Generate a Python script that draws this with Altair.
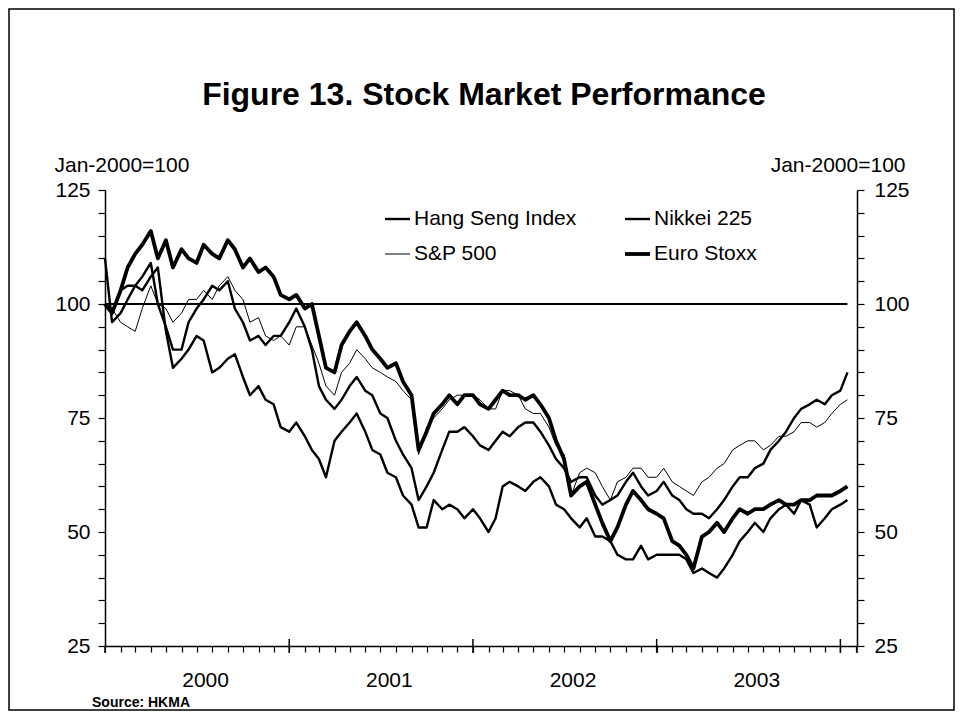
import altair as alt
import pandas as pd

# ---------------- data ----------------
# half-monthly observations, 1 Jan 2000 .. 15 Jan 2004 (98 points)
dates = pd.date_range("2000-01-01", periods=98, freq="SMS")

hang_seng = [
    110, 96, 98, 101, 104, 106, 109, 100, 95, 90, 90, 96,
    99, 101, 104, 103, 105, 99, 96, 92, 93, 91, 93, 93,
    96, 99, 95, 90, 82, 79, 77, 79, 82, 84, 81, 80,
    76, 75, 70, 67, 64, 57, 60, 63, 68, 72, 72, 73,
    71, 69, 68, 70, 72, 71, 73, 74, 74, 72, 69, 66,
    64, 61, 62, 62, 58, 56, 57, 58, 61, 63, 60, 58,
    59, 61, 58, 57, 55, 54, 54, 53, 55, 57, 60, 62,
    62, 64, 65, 68, 70, 72, 75, 77, 78, 79, 78, 80,
    81, 85,
]
nikkei = [
    100, 98, 103, 104, 104, 103, 106, 108, 94, 86, 88, 90,
    93, 92, 85, 86, 88, 89, 84, 80, 82, 79, 78, 73,
    72, 74, 71, 68, 66, 62, 70, 72, 74, 76, 72, 68,
    67, 63, 62, 58, 56, 51, 51, 57, 55, 56, 55, 53,
    55, 53, 50, 53, 60, 61, 60, 59, 61, 62, 60, 56,
    55, 53, 51, 53, 49, 49, 48, 45, 44, 44, 47, 44,
    45, 45, 45, 45, 44, 41, 42, 41, 40, 42, 45, 48,
    50, 52, 50, 53, 55, 56, 54, 57, 56, 51, 53, 55,
    56, 57,
]
sp500 = [
    100, 99, 96, 95, 94, 99, 104, 100, 99, 96, 98, 101,
    101, 103, 101, 104, 106, 103, 101, 96, 97, 93, 92, 93,
    91, 95, 95, 91, 87, 82, 80, 85, 87, 90, 88, 86,
    85, 84, 83, 81, 79, 67, 73, 75, 77, 79, 80, 80,
    80, 79, 77, 77, 81, 81, 80, 77, 76, 76, 73, 69,
    67, 58, 63, 64, 63, 60, 57, 61, 62, 64, 64, 62,
    62, 64, 61, 60, 59, 58, 61, 62, 64, 65, 68, 69,
    70, 70, 68, 69, 71, 71, 72, 74, 74, 73, 74, 76,
    78, 79,
]
euro_stoxx = [
    100, 98, 103, 108, 111, 113, 116, 110, 114, 108, 112, 110,
    109, 113, 111, 110, 114, 112, 108, 110, 107, 108, 106, 102,
    101, 102, 99, 100, 93, 86, 85, 91, 94, 96, 93, 90,
    88, 86, 87, 83, 80, 68, 72, 76, 78, 80, 78, 80,
    80, 78, 77, 79, 81, 80, 80, 79, 80, 78, 75, 70,
    66, 58, 60, 61, 56, 52, 48, 51, 56, 59, 57, 55,
    54, 53, 48, 47, 45, 42, 49, 50, 52, 50, 53, 55,
    54, 55, 55, 56, 57, 56, 56, 57, 57, 58, 58, 58,
    59, 60,
]

series_names = ["Hang Seng Index", "Nikkei 225", "S&P 500", "Euro Stoxx"]
series_values = [hang_seng, nikkei, sp500, euro_stoxx]
series_widths = [2.4, 2.4, 1.0, 3.8]

year_labels = ["2000", "2001", "2002", "2003"]
year_mid_dates = ["2000-07-01", "2001-07-01", "2002-07-01", "2003-07-01"]
year_start_dates = ["2001-01-01", "2002-01-01", "2003-01-01", "2004-01-01"]
y_ticks = list(range(25, 130, 5))
base_value = 100
title_text = "Figure 13. Stock Market Performance"
source_text = "Source: HKMA"
axis_title = "Jan-2000=100"

# ---------------- layout ----------------
FONT = "Liberation Sans"
W, H = 752, 456

x_scale = alt.Scale(domain=[alt.DateTime(year=2000, month=1, date=1),
                            alt.DateTime(year=2004, month=2, date=3)])
y_scale = alt.Scale(domain=[25, 125], nice=False, zero=False)

month_ticks = [alt.DateTime(year=d.year, month=d.month, date=1)
               for d in pd.date_range("2000-01-01", "2004-02-01", freq="MS")]

x_axis = alt.Axis(values=month_ticks, labels=False, tickSize=6, tickColor="black",
                  tickWidth=1.2, domainColor="black", domainWidth=1.5, grid=False,
                  title=None)


def y_axis(orient):
    right = orient == "right"
    return alt.Axis(
        orient=orient, values=y_ticks,
        labelExpr="datum.value % 25 == 0 ? datum.label : ''",
        tickSize=7, tickColor="black", tickWidth=1.2,
        domainColor="black", domainWidth=1.5, grid=False,
        labelFont=FONT, labelFontSize=21, labelColor="black",
        labelPadding=8 if not right else 10,
        title=axis_title, titleAngle=0,
        titleAlign="right" if right else "left",
        titleBaseline="alphabetic",
        titleX=48 if right else -51, titleY=-19,
        titleFont=FONT, titleFontSize=21, titleFontWeight="normal",
        titleColor="black",
    )


X = alt.X("date:T", scale=x_scale, axis=x_axis)

series_layers = []
for k, (name, vals, w) in enumerate(zip(series_names, series_values, series_widths)):
    sdf = pd.DataFrame({"date": dates, "value": vals, "series": name})
    y_enc = alt.Y("value:Q", scale=y_scale,
                  axis=y_axis("left") if k == 0 else None)
    series_layers.append(
        alt.Chart(sdf).mark_line(color="black", strokeWidth=w, strokeJoin="round")
        .encode(x=X, y=y_enc)
    )

base_df = pd.DataFrame({"date": [dates[0]], "end": [dates[-1]], "value": [base_value]})
base_rule = alt.Chart(base_df).mark_rule(color="black", strokeWidth=2).encode(
    x=X, x2="end:T",
    y=alt.Y("value:Q", scale=y_scale, axis=y_axis("right")),
)

year_tick_df = pd.DataFrame({"date": pd.to_datetime(year_start_dates)})
year_ticks = alt.Chart(year_tick_df).mark_rule(color="black", strokeWidth=1.5).encode(
    x=X, y=alt.value(H - 7), y2=alt.value(H + 7)
)

year_df = pd.DataFrame({"date": pd.to_datetime(year_mid_dates), "label": year_labels})
year_text = alt.Chart(year_df).mark_text(
    font=FONT, fontSize=21, dx=9, baseline="middle", color="black"
).encode(x=X, y=alt.value(H + 35), text="label:N")

one = pd.DataFrame({"k": [0]})
corner_left = alt.Chart(one).mark_rule(color="black", strokeWidth=1.5).encode(
    x=alt.value(0), y=alt.value(H), y2=alt.value(H + 7))
corner_right = alt.Chart(one).mark_rule(color="black", strokeWidth=1.5).encode(
    x=alt.value(W), y=alt.value(H), y2=alt.value(H + 7))

border = alt.Chart(one).mark_rect(fill="transparent", stroke="black", strokeWidth=1.5).encode(
    x=alt.value(-96), x2=alt.value(W + 97), y=alt.value(-181), y2=alt.value(H + 64))

title = alt.Chart(pd.DataFrame({"t": [title_text]})).mark_text(
    font=FONT, fontSize=32, fontWeight="bold", align="center", baseline="middle",
    color="black").encode(x=alt.value(379), y=alt.value(-95), text="t:N")

source = alt.Chart(pd.DataFrame({"t": [source_text]})).mark_text(
    font=FONT, fontSize=14, fontWeight="bold", align="left", baseline="middle",
    color="black").encode(x=alt.value(-13), y=alt.value(H + 57), text="t:N")

# hand-built 2x2 legend (row-major: HSI, Nikkei / S&P, Euro Stoxx)
legend_layers = []
for i, (name, w) in enumerate(zip(series_names, series_widths)):
    col, row = i % 2, i // 2
    lx = 280 + col * 240
    ly = 29 + row * 35
    entry = pd.DataFrame({"series": [name]})
    legend_layers.append(
        alt.Chart(entry).mark_rule(color="black", strokeWidth=w).encode(
            x=alt.value(lx), x2=alt.value(lx + 25), y=alt.value(ly))
    )
    legend_layers.append(
        alt.Chart(entry).mark_text(font=FONT, fontSize=21, align="left",
                                   baseline="middle", color="black").encode(
            x=alt.value(lx + 29), y=alt.value(ly), text="series:N")
    )

chart = alt.layer(
    border, base_rule, *series_layers, year_ticks, year_text, corner_left,
    corner_right, title, source, *legend_layers,
).resolve_axis(y="independent").properties(
    width=W, height=H, padding=0
).configure_view(stroke=None)

chart.save("out.html", embed_options={"renderer": "svg", "actions": False})
